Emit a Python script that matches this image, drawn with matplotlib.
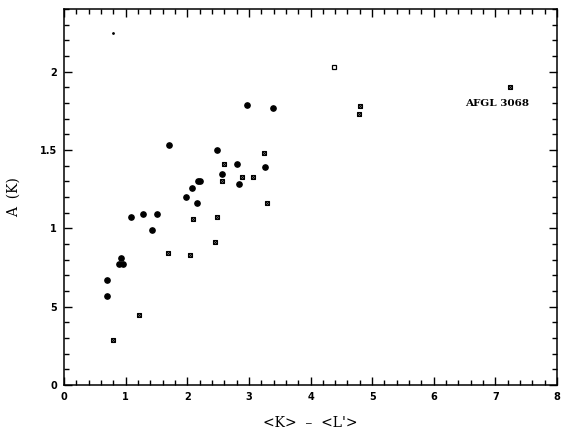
import numpy as np
import matplotlib
matplotlib.use("Agg")
import matplotlib.pyplot as plt
from matplotlib.ticker import MultipleLocator, FixedLocator, FixedFormatter

# filled dots
dot_x = [0.69, 0.70, 0.92, 0.89, 0.95, 1.09, 1.28, 1.43, 1.51, 1.71, 1.98, 2.07,
         2.17, 2.20, 2.16, 2.48, 2.57, 2.80, 2.84, 2.97, 3.26, 3.39]
dot_y = [0.67, 0.57, 0.81, 0.77, 0.77, 1.07, 1.09, 0.99, 1.09, 1.53, 1.20, 1.26,
         1.30, 1.30, 1.16, 1.50, 1.35, 1.41, 1.28, 1.79, 1.39, 1.77]

# crossed boxes
box_x = [2.60, 2.57, 2.89, 3.07, 3.25, 3.29, 2.09, 2.48, 1.68, 2.05, 2.45,
         1.22, 0.79, 4.80, 4.78, 7.24]
box_y = [1.41, 1.30, 1.33, 1.33, 1.48, 1.16, 1.06, 1.07, 0.84, 0.83, 0.91,
         0.45, 0.29, 1.78, 1.73, 1.90]

# open box and a stray small dot
open_x = [4.38]
open_y = [2.03]
small_x = [0.79]
small_y = [2.25]

ytick_vals = [0, 0.5, 1, 1.5, 2]
ytick_labels = ["0", "5", "1", "1.5", "2"]
xtick_vals = [0, 1, 2, 3, 4, 5, 6, 7, 8]

fig = plt.figure(figsize=(5.7, 4.38), dpi=100)
ax = fig.add_axes([64/570, 1-385/438, (557-64)/570, (385-9)/438])

ax.plot(dot_x, dot_y, 'o', color='black', markersize=3.8, linestyle='')
ax.plot(box_x, box_y, 's', mfc='none', mec='black', mew=0.8, markersize=3.3, linestyle='')
ax.plot(box_x, box_y, 'x', color='black', mew=0.8, markersize=3.0, linestyle='')
ax.plot(open_x, open_y, 's', mfc='none', mec='black', mew=0.9, markersize=3.5, linestyle='')
ax.plot(small_x, small_y, '.', color='black', markersize=2)

ax.text(7.03, 1.80, "AFGL 3068", ha='center', va='center', fontsize=7.5,
        fontweight='bold', family='DejaVu Serif')

ax.set_xlim(0, 8)
ax.set_ylim(0, 2.4)
ax.xaxis.set_major_locator(FixedLocator(xtick_vals))
ax.xaxis.set_minor_locator(MultipleLocator(0.2))
ax.yaxis.set_major_locator(FixedLocator(ytick_vals))
ax.yaxis.set_major_formatter(FixedFormatter(ytick_labels))
ax.yaxis.set_minor_locator(MultipleLocator(0.1))

ax.tick_params(which='both', direction='in', top=True, right=True, width=1.0,
               labelsize=7, pad=5)
ax.tick_params(which='major', length=6)
ax.tick_params(which='minor', length=3.5)
for lab in ax.get_xticklabels() + ax.get_yticklabels():
    lab.set_fontweight('bold')
for sp in ax.spines.values():
    sp.set_linewidth(1.1)

ax.set_xlabel("<K>  \u2013  <L'>", family='DejaVu Serif', fontsize=10, labelpad=10)
ax.set_ylabel("A  (K)", family='DejaVu Serif', fontsize=10, labelpad=14)

fig.savefig("out.png", dpi=100)
